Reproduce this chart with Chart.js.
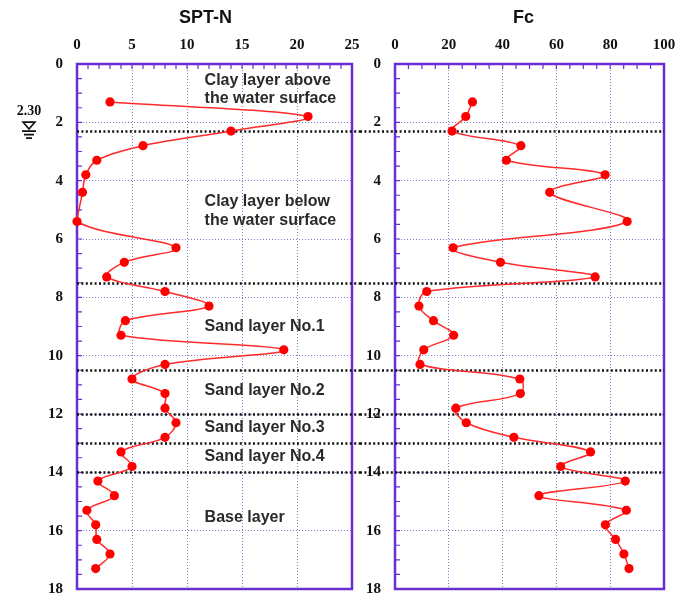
<!DOCTYPE html>
<html>
<head>
<meta charset="utf-8">
<title>SPT-N and Fc profile</title>
<script src="https://cdn.jsdelivr.net/npm/chart.js@4.4.0/dist/chart.umd.min.js"></script>
<style>
    body { margin: 0; background: #fff; overflow: hidden; }
    #wrap { position: relative; width: 678px; height: 595px; }
    canvas { position: absolute; top: 0; }
    #sptChart { left: 0; }
    #fcChart { left: 360px; }
</style>
</head>
<body>
<div id="wrap">
    <canvas id="sptChart" width="360" height="598"></canvas>
    <canvas id="fcChart" width="318" height="598"></canvas>
</div>
<script>
// Test depths (m)
let depths = [1.3, 1.8, 2.3, 2.8, 3.3, 3.8, 4.4, 5.4, 6.3, 6.8, 7.3, 7.8, 8.3, 8.8, 9.3, 9.8,
    10.3, 10.8, 11.3, 11.8, 12.3, 12.8, 13.3, 13.8, 14.3, 14.8, 15.3, 15.8, 16.3, 16.8, 17.3];

// SPT blow counts
let sptValues = [3, 21, 14, 6, 1.8, 0.8, 0.5, 0, 9, 4.3, 2.7, 8, 12, 4.4, 4, 18.8,
    8, 5, 8, 8, 9, 8, 4, 5, 1.9, 3.4, 0.9, 1.7, 1.8, 3, 1.7];

// Fines content (%)
let fcValues = [28.8, 26.3, 21.2, 46.8, 41.4, 78.1, 57.5, 86.3, 21.6, 39.2, 74.4, 11.8, 8.9, 14.3, 21.8, 10.7,
    9.3, 46.4, 46.6, 22.6, 26.5, 44.2, 72.7, 61.6, 85.6, 53.5, 86, 78.2, 82, 85.1, 87];

// Axis ranges
let depthRange = [0, 18];
let sptRange = [0, 25];
let fcRange = [0, 100];

// Layer boundaries and groundwater level (m)
let layerBounds = [2.3, 7.5, 10.5, 12, 13, 14];
let waterLevel = 2.3;

// Layer names and the depth each line is written at
let layerNames = ['Clay layer above', 'the water surface', 'Clay layer below', 'the water surface',
    'Sand layer No.1', 'Sand layer No.2', 'Sand layer No.3', 'Sand layer No.4', 'Base layer'];
let layerNameDepths = [0.57, 1.2, 4.72, 5.37, 9.0, 11.2, 12.45, 13.45, 15.56];

const frameColor = '#6a2fd2';
const gridColor = '#7d7dcc';
const serifFont = '"Liberation Serif", "Times New Roman", serif';
const sansFont = '"Liberation Sans", Arial, sans-serif';

const toPoints = (vals) => vals.map((v, i) => ({ x: v, y: depths[i] }));

// frame, minor ticks, layer lines, titles and notes
function decorPlugin(opts) {
    return {
        id: 'decor',
        beforeDatasetsDraw(chart) {
            const { ctx, chartArea: a, scales: { x, y } } = chart;
            ctx.save();
            ctx.strokeStyle = frameColor;
            ctx.lineWidth = 1.2;
            ctx.beginPath();
            for (let v = opts.minorX; v < x.max; v += opts.minorX) {
                const px = x.getPixelForValue(v);
                ctx.moveTo(px, a.top);
                ctx.lineTo(px, a.top + 5);
            }
            for (let v = 0.5; v < y.max; v += 0.5) {
                const py = y.getPixelForValue(v);
                ctx.moveTo(a.left, py);
                ctx.lineTo(a.left + 5, py);
            }
            ctx.stroke();
            ctx.lineWidth = 2.5;
            ctx.strokeRect(a.left, a.top, a.right - a.left, a.bottom - a.top);

            // layer boundaries, running on across the gap between panels
            ctx.strokeStyle = '#111';
            ctx.lineWidth = 2.4;
            ctx.setLineDash([2, 2.4]);
            ctx.beginPath();
            layerBounds.forEach(b => {
                const py = Math.round(y.getPixelForValue(b)) + 0.5;
                ctx.moveTo(opts.lineFrom(chart), py);
                ctx.lineTo(opts.lineTo(chart), py);
            });
            ctx.stroke();
            ctx.restore();
        },
        afterDraw(chart) {
            const { ctx, chartArea: a, scales: { x, y } } = chart;
            ctx.save();
            ctx.fillStyle = '#111';
            ctx.font = 'bold 18px ' + sansFont;
            ctx.textAlign = 'center';
            ctx.textBaseline = 'middle';
            ctx.fillText(opts.title, (a.left + a.right) / 2 + opts.titleShift, 18);

            if (opts.notes) {
                ctx.fillStyle = '#2a2a2a';
                ctx.font = 'bold 16px ' + sansFont;
                ctx.textAlign = 'left';
                layerNames.forEach((t, i) => {
                    ctx.fillText(t, x.getPixelForValue(11.6), y.getPixelForValue(layerNameDepths[i]));
                });

                // groundwater mark
                const wy = y.getPixelForValue(waterLevel);
                const cx = 29;
                ctx.fillStyle = '#111';
                ctx.font = 'bold 14px ' + serifFont;
                ctx.textAlign = 'center';
                ctx.fillText(waterLevel.toFixed(2), cx, wy - 20);
                ctx.strokeStyle = '#111';
                ctx.lineWidth = 1.6;
                ctx.beginPath();
                ctx.moveTo(cx - 6, wy - 9);
                ctx.lineTo(cx + 6, wy - 9);
                ctx.lineTo(cx, wy - 2);
                ctx.closePath();
                ctx.stroke();
                ctx.lineWidth = 1.8;
                ctx.beginPath();
                ctx.moveTo(cx - 7, wy);
                ctx.lineTo(cx + 7, wy);
                ctx.moveTo(cx - 5, wy + 3.5);
                ctx.lineTo(cx + 5, wy + 3.5);
                ctx.moveTo(cx - 3, wy + 7);
                ctx.lineTo(cx + 3, wy + 7);
                ctx.stroke();
            }
            ctx.restore();
        }
    };
}

// no extra room for edge labels, the layout padding handles it
function noEdgePadding(s) {
    s.paddingLeft = 0;
    s.paddingRight = 0;
    s.paddingTop = 0;
    s.paddingBottom = 0;
}

function makeChart(id, values, xRange, xStep, yWidth, padRight, plugin) {
    return new Chart(document.getElementById(id), {
        type: 'scatter',
        data: {
            datasets: [{
                data: toPoints(values),
                showLine: true,
                tension: 0.35,
                borderColor: '#ff2b2b',
                borderWidth: 1.5,
                pointRadius: 4.6,
                pointBackgroundColor: '#ff0000',
                pointBorderColor: '#ff0000',
                pointBorderWidth: 0,
                clip: false
            }]
        },
        options: {
            responsive: false,
            animation: false,
            layout: { padding: { left: 0, right: padRight, top: 0, bottom: 9 } },
            plugins: { legend: { display: false }, tooltip: { enabled: false } },
            scales: {
                x: {
                    type: 'linear',
                    position: 'top',
                    min: xRange[0],
                    max: xRange[1],
                    ticks: {
                        stepSize: xStep,
                        padding: 10,
                        color: '#111',
                        font: { family: serifFont, size: 15, weight: 'bold' }
                    },
                    grid: { color: gridColor, lineWidth: 1, drawTicks: false },
                    border: { display: false, dash: [1, 2] },
                    afterFit: (s) => { s.height = 64; noEdgePadding(s); }
                },
                y: {
                    type: 'linear',
                    reverse: true,
                    min: depthRange[0],
                    max: depthRange[1],
                    ticks: {
                        stepSize: 2,
                        padding: 14,
                        color: '#111',
                        font: { family: serifFont, size: 15, weight: 'bold' }
                    },
                    grid: { color: gridColor, lineWidth: 1, drawTicks: false },
                    border: { display: false, dash: [1, 2] },
                    afterFit: (s) => { s.width = yWidth; noEdgePadding(s); }
                }
            }
        },
        plugins: [plugin]
    });
}

makeChart('sptChart', sptValues, sptRange, 5, 77, 8, decorPlugin({
    title: 'SPT-N',
    titleShift: -9,
    minorX: 1,
    notes: true,
    lineFrom: (c) => c.chartArea.left,
    lineTo: (c) => c.width
}));

makeChart('fcChart', fcValues, fcRange, 20, 35, 14, decorPlugin({
    title: 'Fc',
    titleShift: -6,
    minorX: 5,
    notes: false,
    lineFrom: () => 0,
    lineTo: (c) => c.chartArea.right
}));
</script>
</body>
</html>
